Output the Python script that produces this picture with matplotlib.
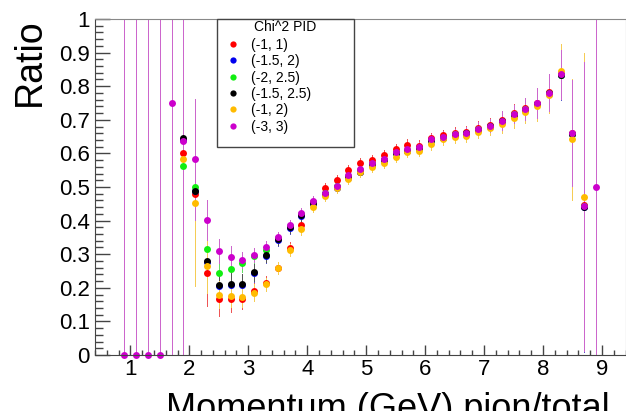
import numpy as np
import matplotlib
matplotlib.use('agg')
import matplotlib.pyplot as plt
from matplotlib.lines import Line2D
from matplotlib.patches import Rectangle
from matplotlib.ticker import MultipleLocator

plt.rcParams['font.family'] = ['Liberation Sans', 'DejaVu Sans']

n = np.nan

# bin centres (GeV), 0.2 GeV wide bins
momentum = [0.9, 1.1, 1.3, 1.5, 1.7, 1.9, 2.1, 2.3, 2.5, 2.7, 2.9, 3.1, 3.3, 3.5,
            3.7, 3.9, 4.1, 4.3, 4.5, 4.7, 4.9, 5.1, 5.3, 5.5, 5.7, 5.9, 6.1, 6.3,
            6.5, 6.7, 6.9, 7.1, 7.3, 7.5, 7.7, 7.9, 8.1, 8.3, 8.5, 8.7, 8.9]

# pion/total ratio for each chi^2 window
ratio_m1_1 = [n, n, n, n, n, 0.601, 0.480, 0.245, 0.166, 0.168, 0.167, 0.190, 0.215, 0.260,
              0.319, 0.387, 0.455, 0.498, 0.521, 0.551, 0.572, 0.581, 0.596, 0.613, 0.626, 0.623, 0.645, 0.654,
              0.661, 0.665, 0.676, 0.685, 0.699, 0.719, 0.734, 0.751, 0.783, 0.837, 0.662, 0.445, n]
err_m1_1 = [n, n, n, n, n, 0.52, 0.24, 0.10, 0.05, 0.04, 0.03, 0.025, 0.02, 0.018,
            0.017, 0.016, 0.015, 0.015, 0.015, 0.015, 0.015, 0.015, 0.015, 0.016, 0.016, 0.016, 0.016, 0.017,
            0.017, 0.017, 0.019, 0.020, 0.026, 0.027, 0.032, 0.044, 0.054, 0.072, 0.158, 0.43, n]

ratio_m15_2 = [n, n, n, n, n, 0.640, 0.487, 0.277, 0.206, 0.207, 0.209, 0.243, 0.295, 0.342,
               0.378, 0.414, 0.450, 0.478, 0.498, 0.528, 0.544, 0.566, 0.579, 0.600, 0.607, 0.615, 0.638, 0.645,
               0.655, 0.659, 0.670, 0.680, 0.694, 0.714, 0.729, 0.746, 0.778, 0.832, 0.657, 0.440, n]
err_m15_2 = [n, n, n, n, n, 0.43, 0.233, 0.07, 0.04, 0.035, 0.03, 0.025, 0.02, 0.018,
             0.017, 0.016, 0.015, 0.015, 0.015, 0.015, 0.015, 0.015, 0.015, 0.016, 0.016, 0.016, 0.016, 0.017,
             0.017, 0.017, 0.019, 0.020, 0.026, 0.027, 0.032, 0.044, 0.054, 0.072, 0.158, 0.43, n]

ratio_m2_25 = [n, n, n, n, n, 0.563, 0.500, 0.316, 0.243, 0.255, 0.273, 0.295, 0.312, 0.347,
               0.384, 0.420, 0.456, 0.481, 0.502, 0.532, 0.550, 0.568, 0.581, 0.602, 0.609, 0.617, 0.640, 0.647,
               0.657, 0.661, 0.672, 0.682, 0.696, 0.716, 0.731, 0.748, 0.780, 0.834, 0.659, 0.442, n]
err_m2_25 = [n, n, n, n, n, 0.42, 0.20, 0.07, 0.035, 0.03, 0.025, 0.02, 0.018, 0.017,
             0.016, 0.015, 0.015, 0.014, 0.014, 0.014, 0.014, 0.015, 0.015, 0.015, 0.015, 0.016, 0.016, 0.016,
             0.016, 0.017, 0.019, 0.020, 0.028, 0.027, 0.033, 0.045, 0.055, 0.072, 0.158, 0.43, n]

ratio_m15_25 = [n, n, n, n, n, 0.645, 0.489, 0.280, 0.209, 0.210, 0.211, 0.246, 0.298, 0.344,
                0.380, 0.416, 0.452, 0.480, 0.500, 0.530, 0.546, 0.567, 0.580, 0.601, 0.608, 0.616, 0.639, 0.646,
                0.656, 0.660, 0.671, 0.681, 0.695, 0.715, 0.730, 0.747, 0.779, 0.833, 0.658, 0.441, n]
err_m15_25 = [n, n, n, n, n, 0.43, 0.226, 0.07, 0.04, 0.035, 0.03, 0.025, 0.02, 0.018,
              0.017, 0.016, 0.015, 0.015, 0.015, 0.015, 0.015, 0.015, 0.015, 0.016, 0.016, 0.016, 0.016, 0.017,
              0.017, 0.017, 0.019, 0.020, 0.026, 0.027, 0.032, 0.044, 0.054, 0.072, 0.158, 0.43, n]

ratio_m1_2 = [n, n, n, n, n, 0.583, 0.451, 0.265, 0.179, 0.177, 0.174, 0.185, 0.210, 0.258,
              0.313, 0.374, 0.440, 0.474, 0.496, 0.524, 0.545, 0.560, 0.572, 0.590, 0.605, 0.607, 0.628, 0.642,
              0.648, 0.652, 0.665, 0.677, 0.688, 0.705, 0.724, 0.741, 0.775, 0.845, 0.642, 0.469, n]
err_m1_2 = [n, n, n, n, n, 0.42, 0.246, 0.08, 0.04, 0.035, 0.03, 0.025, 0.02, 0.018,
            0.017, 0.016, 0.015, 0.015, 0.015, 0.015, 0.015, 0.015, 0.016, 0.016, 0.016, 0.016, 0.017, 0.017,
            0.017, 0.018, 0.020, 0.022, 0.026, 0.028, 0.034, 0.046, 0.056, 0.080, 0.18, 0.43, n]

ratio_m3_3 = [0.0, 0.0, 0.0, 0.0, 0.75, 0.637, 0.583, 0.402, 0.310, 0.293, 0.283, 0.298, 0.320, 0.350,
              0.387, 0.422, 0.458, 0.483, 0.504, 0.535, 0.555, 0.571, 0.583, 0.604, 0.613, 0.619, 0.642, 0.650,
              0.658, 0.662, 0.673, 0.683, 0.697, 0.717, 0.732, 0.749, 0.781, 0.835, 0.660, 0.443, 0.500]
err_m3_3 = [1.5, 1.5, 1.5, 1.5, 1.2, 1.0, 0.18, 0.06, 0.035, 0.03, 0.025, 0.02, 0.018, 0.016,
            0.015, 0.015, 0.014, 0.014, 0.014, 0.014, 0.014, 0.015, 0.015, 0.015, 0.015, 0.016, 0.016, 0.016,
            0.016, 0.017, 0.019, 0.020, 0.028, 0.027, 0.033, 0.045, 0.055, 0.072, 0.158, 0.43, 1.0]

labels = ['(-1, 1)', '(-1.5, 2)', '(-2, 2.5)', '(-1.5, 2.5)', '(-1, 2)', '(-3, 3)']
colors = ['#ff0000', '#0000ee', '#11ee11', '#000000', '#ffbb00', '#cc00cc']
bar_colors = ['#ee5555', '#5555cc', '#66dd66', '#555555', '#f5cc55', '#cc66cc']
ratios = [ratio_m1_1, ratio_m15_2, ratio_m2_25, ratio_m15_25, ratio_m1_2, ratio_m3_3]
errors = [err_m1_1, err_m15_2, err_m2_25, err_m15_25, err_m1_2, err_m3_3]

xticks = [1, 2, 3, 4, 5, 6, 7, 8, 9]
yticks = [0, 0.1, 0.2, 0.3, 0.4, 0.5, 0.6, 0.7, 0.8, 0.9, 1.0]
yticklabels = ['0', '0.1', '0.2', '0.3', '0.4', '0.5', '0.6', '0.7', '0.8', '0.9', '1']

fig = plt.figure(figsize=(6.26, 4.11), dpi=100)
ax = fig.add_axes([95 / 626, 56 / 411, 530.5 / 626, 336 / 411])

for vals, errs, col, bcol in zip(ratios, errors, colors, bar_colors):
    line, caps, bars = ax.errorbar(momentum, vals, yerr=errs, fmt='o', ms=5, mew=0,
                                   color=col, ecolor=bcol, elinewidth=0.72,
                                   capsize=1.8, capthick=0.72)
    line.set_clip_on(False)
    # crisp one-pixel bars so the last drawn set fully covers the ones below
    for b in bars:
        b.set_antialiased(False)
        b.set_snap(True)
    for c in caps:
        c.set_antialiased(False)

ax.set_xlim(0.4, 9.4)
ax.set_ylim(0, 1)
ax.set_xticks(xticks)
ax.set_xticklabels([str(t) for t in xticks])
ax.set_yticks(yticks)
ax.set_yticklabels(yticklabels)
ax.xaxis.set_minor_locator(MultipleLocator(0.2))
ax.yaxis.set_minor_locator(MultipleLocator(0.02))
ax.tick_params(which='both', direction='in', color='#444444', width=1, labelsize=16)
ax.tick_params(axis='y', which='major', length=10.8, pad=3.6)
ax.tick_params(axis='y', which='minor', length=5.5)
ax.tick_params(axis='x', which='major', length=7.2, pad=3)
ax.tick_params(axis='x', which='minor', length=3.6)
for side in ['left', 'bottom']:
    ax.spines[side].set_color('#444444')
for side in ['top', 'right']:
    ax.spines[side].set_color('#888888')

# legend box in the ROOT style
box = Rectangle((0.23, 0.619), 0.258, 0.381, transform=ax.transAxes, facecolor='white',
                edgecolor='#444444', lw=1, zorder=5, clip_on=False)
ax.add_patch(box)
ax.text(0.23 + 0.258 / 2, (355 - 26.7) / 336, 'Chi^2 PID', transform=ax.transAxes,
        ha='center', va='center', fontsize=10, zorder=6)
handles = [Line2D([], [], marker='o', ls='', color=c, ms=4.5, mew=0) for c in colors]
leg = ax.legend(handles, labels, loc='upper left', bbox_to_anchor=(0.2477, 0.944),
                frameon=False, fontsize=10, handlelength=1.0, handletextpad=0.75,
                labelspacing=0.17, borderpad=0, borderaxespad=0)
leg.set_zorder(7)

fig.text(48 / 626, 1 - 18.3 / 411, 'Ratio', rotation=90, ha='right', va='top', fontsize=27)
fig.text(610 / 626, -8 / 411, 'Momentum (GeV) pion/total', ha='right', va='baseline', fontsize=26)

fig.savefig('out.png', dpi=100)
